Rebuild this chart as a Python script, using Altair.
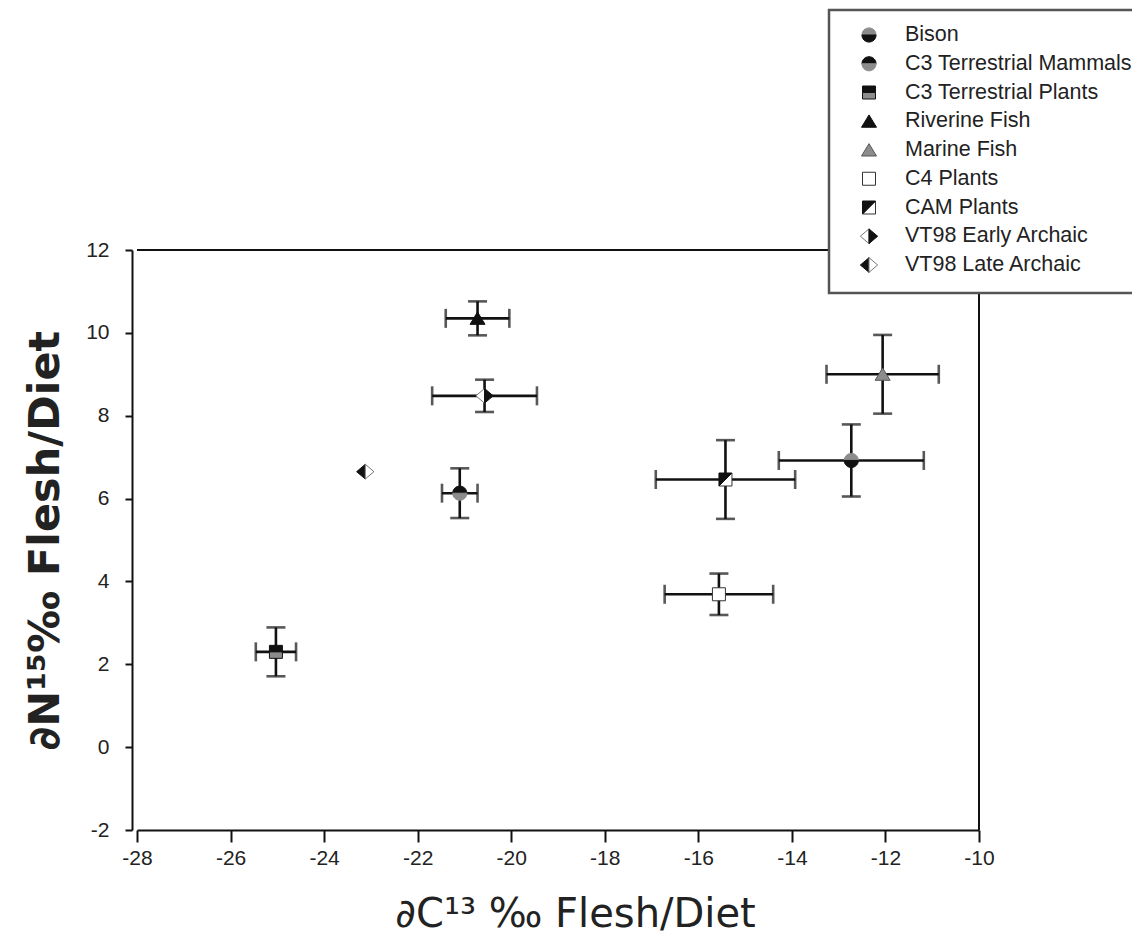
import altair as alt
import pandas as pd

# ---- data ----
categories = ["Bison", "C3 Terrestrial Mammals", "C3 Terrestrial Plants", "Riverine Fish",
              "Marine Fish", "C4  Plants", "CAM Plants", "VT98 Early Archaic", "VT98 Late Archaic"]
d13c = [-12.73, -21.10, -25.03, -20.72, -12.06, -15.56, -15.42, -20.57, -23.12]
d13c_err = [1.55, 0.38, 0.43, 0.68, 1.20, 1.16, 1.49, 1.12, 0.0]
d15n = [6.92, 6.13, 2.30, 10.35, 9.00, 3.69, 6.46, 8.48, 6.65]
d15n_err = [0.87, 0.60, 0.59, 0.41, 0.95, 0.50, 0.95, 0.39, 0.0]
x_ticks = [-28, -26, -24, -22, -20, -18, -16, -14, -12, -10]
y_ticks = [-2, 0, 2, 4, 6, 8, 10, 12]

# ---- marker styling (two-tone symbols drawn as parts) ----
GRAY = "#8c8c8c"
BLK = "#111111"
WHT = "#ffffff"
CIRC_TOP = "M-1,0A1,1,0,0,1,1,0Z"
CIRC_BOT = "M-1,0A1,1,0,0,0,1,0Z"
SQ = "M-1,-1L1,-1L1,1L-1,1Z"
SQ_TOP = "M-1,-1L1,-1L1,0L-1,0Z"
SQ_BOT = "M-1,0L1,0L1,1L-1,1Z"
SQ_TL = "M-1,-1L1,-1L-1,1Z"
SQ_BR = "M1,-1L1,1L-1,1Z"
TRI = "M0,-0.85L1,0.8L-1,0.8Z"
DIA_L = "M0,-0.85L0,0.85L-1,0Z"
DIA_R = "M0,-0.85L1,0L0,0.85Z"

parts = {
    "Bison": [(CIRC_TOP, GRAY, GRAY), (CIRC_BOT, BLK, BLK)],
    "C3 Terrestrial Mammals": [(CIRC_TOP, BLK, BLK), (CIRC_BOT, GRAY, GRAY)],
    "C3 Terrestrial Plants": [(SQ_TOP, BLK, BLK), (SQ_BOT, GRAY, BLK)],
    "Riverine Fish": [(TRI, BLK, BLK)],
    "Marine Fish": [(TRI, GRAY, "#555555")],
    "C4  Plants": [(SQ, WHT, "#333333")],
    "CAM Plants": [(SQ_BR, WHT, "#333333"), (SQ_TL, BLK, BLK)],
    "VT98 Early Archaic": [(DIA_L, WHT, "#777777"), (DIA_R, BLK, BLK)],
    "VT98 Late Archaic": [(DIA_L, BLK, BLK), (DIA_R, WHT, "#777777")],
}
sizes = {"Bison": 200, "C3 Terrestrial Mammals": 200, "C3 Terrestrial Plants": 169,
         "Riverine Fish": 225, "Marine Fish": 225, "C4  Plants": 169, "CAM Plants": 169,
         "VT98 Early Archaic": 300, "VT98 Late Archaic": 300}

pts = pd.DataFrame({"cat": categories, "x": d13c, "xerr": d13c_err, "y": d15n, "yerr": d15n_err})
pts["xlo"] = pts.x - pts.xerr
pts["xhi"] = pts.x + pts.xerr
pts["ylo"] = pts.y - pts.yerr
pts["yhi"] = pts.y + pts.yerr

rows = []
for i, c in enumerate(categories):
    for p, f, s in parts[c]:
        rows.append({"cat": c, "row": i, "x": d13c[i], "y": d15n[i], "path": p,
                     "fill": f, "stroke": s, "size": sizes[c]})
mk = pd.DataFrame(rows)

W, H = 842, 580
FONT = "Liberation Sans"
BAR = "#111111"

xs = alt.Scale(domain=[-28, -10], nice=False, zero=False)
ys = alt.Scale(domain=[-2, 12], nice=False, zero=False)

xaxis = alt.Axis(values=x_ticks, title="∂C¹³ ‰ Flesh/Diet", grid=False, labelFlush=False,
                 labelExpr="'' + datum.value", labelFont=FONT, labelFontSize=21, labelColor="#222",
                 tickSize=12, tickWidth=2, domainWidth=2, labelPadding=5, titlePadding=26,
                 titleX=438, titleAnchor="start", titleAlign="center",
                 titleFontSize=40, titleFontWeight="normal", titleFont="DejaVu Sans")
yaxis = alt.Axis(values=y_ticks, title="∂N¹⁵‰ Flesh/Diet", grid=False, offset=5,
                 labelExpr="'' + datum.value", labelFont=FONT, labelFontSize=21, labelColor="#222",
                 tickSize=7, tickWidth=2, domainWidth=2, labelPadding=16, titlePadding=18,
                 titleFontSize=43, titleFontWeight="bold", titleFont="DejaVu Sans")

base = alt.Chart(pts)
xbars = base.transform_filter("datum.xerr > 0").mark_rule(color=BAR, strokeWidth=2.6).encode(
    x=alt.X("xlo:Q", scale=xs, axis=xaxis), x2="xhi:Q", y=alt.Y("y:Q", scale=ys, axis=yaxis))
ybars = base.transform_filter("datum.yerr > 0").mark_rule(color=BAR, strokeWidth=2.6).encode(
    x=alt.X("x:Q", scale=xs), y=alt.Y("ylo:Q", scale=ys), y2="yhi:Q")
xcap_lo = base.transform_filter("datum.xerr > 0").mark_tick(color=BAR, thickness=2.6, size=19, orient="vertical").encode(
    x=alt.X("xlo:Q", scale=xs), y=alt.Y("y:Q", scale=ys))
xcap_hi = base.transform_filter("datum.xerr > 0").mark_tick(color=BAR, thickness=2.6, size=19, orient="vertical").encode(
    x=alt.X("xhi:Q", scale=xs), y=alt.Y("y:Q", scale=ys))
ycap_lo = base.transform_filter("datum.yerr > 0").mark_tick(color=BAR, thickness=2.6, size=19, orient="horizontal").encode(
    x=alt.X("x:Q", scale=xs), y=alt.Y("ylo:Q", scale=ys))
ycap_hi = base.transform_filter("datum.yerr > 0").mark_tick(color=BAR, thickness=2.6, size=19, orient="horizontal").encode(
    x=alt.X("x:Q", scale=xs), y=alt.Y("yhi:Q", scale=ys))

markers = alt.Chart(mk).mark_point(filled=True, opacity=1, strokeWidth=1).encode(
    x=alt.X("x:Q", scale=xs), y=alt.Y("y:Q", scale=ys),
    shape=alt.Shape("path:N", scale=None), fill=alt.Fill("fill:N", scale=None),
    stroke=alt.Stroke("stroke:N", scale=None), size=alt.Size("size:Q", scale=None))

one = pd.DataFrame({"k": [0]})
top_rule = alt.Chart(one).mark_rule(color="#111", strokeWidth=2).encode(
    x=alt.value(0), x2=alt.value(W), y=alt.value(0))
right_rule = alt.Chart(one).mark_rule(color="#111", strokeWidth=2).encode(
    x=alt.value(W), y=alt.value(0), y2=alt.value(H))

main = alt.layer(top_rule, right_rule, xbars, ybars, xcap_lo, xcap_hi, ycap_lo, ycap_hi, markers)

# ---- legend ----
lscale = alt.Scale(domain=[0, 8], range=[-215, 15])
lbox = alt.Chart(one).mark_rect(fill="white", stroke="#555", strokeWidth=2.5).encode(
    x=alt.value(692), x2=alt.value(1010), y=alt.value(-240), y2=alt.value(43))
lmarks = alt.Chart(mk).mark_point(filled=True, opacity=1, strokeWidth=1).encode(
    x=alt.value(732), y=alt.Y("row:Q", scale=lscale, axis=None),
    shape=alt.Shape("path:N", scale=None), fill=alt.Fill("fill:N", scale=None),
    stroke=alt.Stroke("stroke:N", scale=None), size=alt.Size("size:Q", scale=None))
ltext = alt.Chart(pd.DataFrame({"cat": categories, "row": list(range(len(categories)))})).mark_text(
    align="left", baseline="middle", font=FONT, fontSize=21.5, color="#222").encode(
    x=alt.value(768), y=alt.Y("row:Q", scale=lscale, axis=None), text="cat:N")
legend = alt.layer(lbox, lmarks, ltext)

chart = alt.layer(main, legend).resolve_scale(y="independent").properties(
    width=W, height=H,
    padding={"left": 129, "top": 242, "right": 153, "bottom": 112},
    autosize=alt.AutoSizeParams(type="none"),
).configure_view(stroke=None).configure_axis(
    domainColor="#111", tickColor="#111", titleColor="#222",
)

chart.save("out.html", embed_options={"renderer": "svg", "actions": False})
